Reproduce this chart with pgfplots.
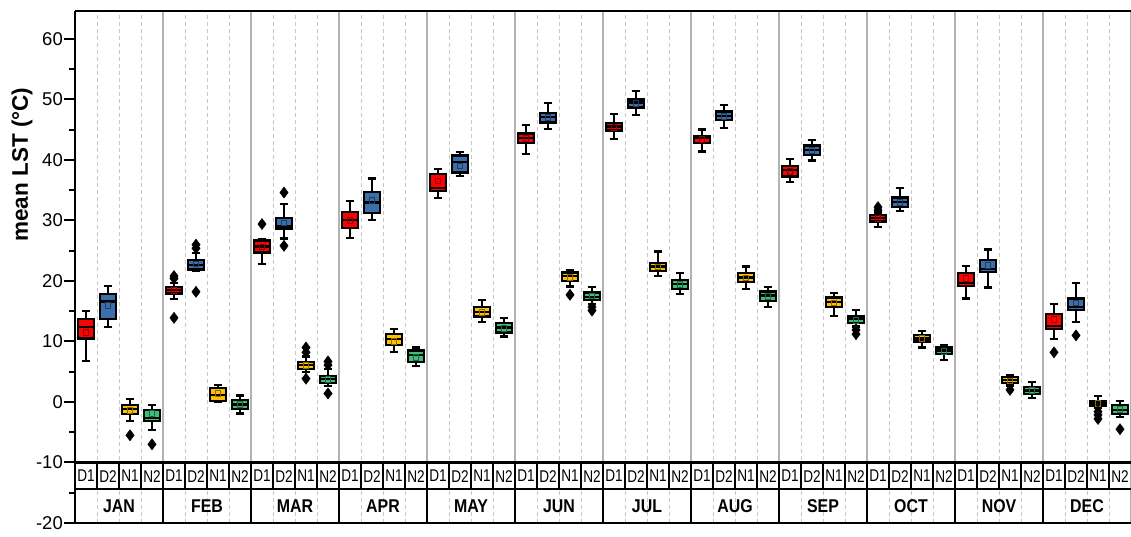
\documentclass[border=0pt]{standalone}
\usepackage{pgfplots}
\pgfplotsset{compat=1.18}
\usepgfplotslibrary{statistics}
\usepackage{fontspec}
\setmainfont{Liberation Sans}
\newfontfamily\narrowfont[FakeStretch=0.8]{Liberation Sans}
\newfontfamily\monthfont[FakeStretch=0.86]{Liberation Sans Bold}
\definecolor{cD1}{RGB}{255,0,0}
\definecolor{cD2}{RGB}{59,110,170}
\definecolor{cN1}{RGB}{255,192,0}
\definecolor{cN2}{RGB}{60,190,120}
% box: pos, color, lw, q1, med, q3, uw, mean
\newcommand{\bx}[8]{%
  \addplot[boxplot/draw direction=y,
      boxplot prepared={draw position=#1, lower whisker=#3, lower quartile=#4,
      median=#5, upper quartile=#6, upper whisker=#7, box extend=0.72, whisker extend=0.4},
      draw=black, fill=#2, line width=2.3pt, solid] coordinates {};
  \addplot[only marks, mark=square, mark size=2.8pt,
      mark options={draw=#2!55!black, line width=0.8pt, fill=none}] coordinates {(#1,#8)};
}
\newcommand{\outl}[1]{%
  \addplot[only marks, mark=diamond*, mark size=5.6pt,
      mark options={draw=black, fill=black, line width=0.4pt}] coordinates {#1};
}
\begin{document}
\begin{tikzpicture}
\begin{axis}[
  scale only axis, width=1056pt, height=512pt,
  xmin=0, xmax=48, ymin=-20, ymax=64.6,
  axis x line*=box, axis y line*=left,
  axis line style={line width=2.6pt, black},
  xtick={0,4,...,48}, minor xtick={1,2,3,5,6,7,9,10,11,13,14,15,17,18,19,21,22,23,25,26,27,29,30,31,33,34,35,37,38,39,41,42,43,45,46,47},
  xticklabels={}, x tick style={draw=none},
  xmajorgrids, xminorgrids,
  major x grid style={draw=black!30, line width=1.1pt, solid},
  minor x grid style={draw=black!22, line width=0.8pt, dashed, dash pattern=on 4pt off 3pt},
  ytick={-20,-10,...,60}, minor ytick={-15,-5,...,65},
  tick align=outside, y tick style={black, line width=2pt},
  major tick length=11pt, minor tick length=6pt,
  yticklabel style={font=\fontsize{18.5}{22}\selectfont, inner sep=1pt, /pgf/number format/assume math mode=true},
  clip=false,
]
% JAN
\bx{0.5}{cD1}{6.8}{10.5}{12.4}{13.7}{15.0}{11.5}
\bx{1.5}{cD2}{12.4}{13.7}{16.6}{17.8}{19.2}{16.0}
\bx{2.5}{cN1}{-3.1}{-2.0}{-1.2}{-0.5}{0.5}{-1.4}
\bx{3.5}{cN2}{-4.6}{-3.1}{-2.7}{-1.3}{-0.55}{-1.9}
\outl{(2.5,-5.5) (3.5,-7.0)}
% FEB
\bx{4.5}{cD1}{17.0}{17.9}{18.5}{19.0}{19.6}{18.4}
\bx{5.5}{cD2}{21.7}{21.9}{22.6}{23.5}{24.6}{22.8}
\bx{6.5}{cN1}{0.0}{0.2}{1.2}{2.3}{2.75}{1.4}
\bx{7.5}{cN2}{-1.9}{-1.2}{-0.4}{0.3}{1.05}{-0.4}
\outl{(4.5,20.4) (4.5,20.8) (4.5,13.9) (5.5,25.4) (5.5,26.0) (5.5,18.2)}
% MAR
\bx{8.5}{cD1}{22.8}{24.7}{25.7}{26.7}{26.9}{25.6}
\bx{9.5}{cD2}{27.0}{28.6}{29.0}{30.4}{32.7}{29.6}
\bx{10.5}{cN1}{5.0}{5.45}{6.1}{6.6}{7.5}{6.0}
\bx{11.5}{cN2}{2.6}{3.1}{3.75}{4.3}{5.4}{3.7}
\outl{(8.5,29.4) (9.5,34.6) (9.5,25.8) (10.5,8.2) (10.5,9.0) (10.5,3.85) (11.5,6.1) (11.5,6.7) (11.5,1.4)}
% APR
\bx{12.5}{cD1}{27.1}{28.8}{30.1}{31.35}{33.2}{30.0}
\bx{13.5}{cD2}{30.1}{31.2}{32.95}{34.7}{36.9}{33.3}
\bx{14.5}{cN1}{8.2}{9.4}{10.4}{11.2}{12.0}{10.0}
\bx{15.5}{cN2}{6.0}{6.55}{7.8}{8.5}{9.0}{7.4}
% MAY
\bx{16.5}{cD1}{33.7}{34.9}{35.4}{37.7}{38.5}{36.5}
\bx{17.5}{cD2}{37.3}{37.9}{39.6}{40.7}{41.3}{39.0}
\bx{18.5}{cN1}{13.2}{14.1}{14.9}{15.65}{16.9}{14.8}
\bx{19.5}{cN2}{10.8}{11.5}{12.3}{13.1}{13.9}{12.2}
% JUN
\bx{20.5}{cD1}{41.0}{42.8}{43.6}{44.35}{45.8}{43.5}
\bx{21.5}{cD2}{45.1}{46.2}{47.1}{47.8}{49.4}{47.0}
\bx{22.5}{cN1}{19.1}{20.0}{20.8}{21.4}{21.8}{20.6}
\bx{23.5}{cN2}{16.2}{16.9}{17.4}{18.1}{19.0}{17.5}
\outl{(22.5,17.7) (23.5,15.7) (23.5,15.1)}
% JUL
\bx{24.5}{cD1}{43.5}{44.85}{45.5}{46.1}{47.55}{45.4}
\bx{25.5}{cD2}{47.4}{48.65}{49.5}{50.0}{51.4}{49.3}
\bx{26.5}{cN1}{20.8}{21.65}{22.4}{23.0}{24.85}{22.3}
\bx{27.5}{cN2}{17.8}{18.7}{19.5}{20.2}{21.3}{19.4}
% AUG
\bx{28.5}{cD1}{41.4}{42.8}{43.6}{44.0}{45.0}{43.4}
\bx{29.5}{cD2}{45.25}{46.6}{47.3}{48.0}{49.1}{47.2}
\bx{30.5}{cN1}{18.7}{19.8}{20.55}{21.3}{22.4}{20.5}
\bx{31.5}{cN2}{15.75}{16.7}{17.6}{18.25}{19.0}{17.4}
% SEP
\bx{32.5}{cD1}{36.3}{37.25}{38.3}{39.0}{40.1}{38.1}
\bx{33.5}{cD2}{39.9}{40.8}{41.65}{42.4}{43.3}{41.6}
\bx{34.5}{cN1}{14.2}{15.65}{16.5}{17.25}{18.0}{16.4}
\bx{35.5}{cN2}{12.45}{13.0}{13.7}{14.1}{15.2}{13.5}
\outl{(35.5,11.9) (35.5,11.2)}
% OCT
\bx{36.5}{cD1}{28.9}{29.8}{30.35}{30.85}{31.3}{30.3}
\bx{37.5}{cD2}{31.5}{32.2}{33.05}{33.8}{35.3}{33.0}
\bx{38.5}{cN1}{9.0}{10.0}{10.5}{11.1}{11.7}{10.5}
\bx{39.5}{cN2}{6.9}{7.9}{8.5}{9.0}{9.4}{8.4}
\outl{(36.5,31.7) (36.5,32.2)}
% NOV
\bx{40.5}{cD1}{17.1}{19.2}{19.7}{21.3}{22.5}{20.4}
\bx{41.5}{cD2}{18.9}{21.5}{22.0}{23.5}{25.2}{22.6}
\bx{42.5}{cN1}{2.7}{3.1}{3.6}{4.1}{4.45}{3.5}
\bx{43.5}{cN2}{0.6}{1.3}{1.9}{2.5}{3.25}{1.9}
\outl{(42.5,2.0)}
% DEC
\bx{44.5}{cD1}{10.4}{12.1}{12.6}{14.55}{16.2}{13.6}
\bx{45.5}{cD2}{13.2}{15.2}{15.75}{17.1}{19.6}{16.4}
\bx{46.5}{cN1}{-1.05}{-0.6}{-0.2}{0.2}{1.0}{-0.2}
\bx{47.5}{cN2}{-2.5}{-2.0}{-1.3}{-0.5}{0.2}{-1.2}
\outl{(44.5,8.2) (45.5,11.0) (46.5,-1.6) (46.5,-2.15) (46.5,-2.8) (47.5,-4.5)}
% label rows
\draw[black, line width=2.4pt] (axis cs:0,-10) -- (axis cs:48,-10);
\draw[black, line width=2.2pt] (axis cs:0,-14.43) -- (axis cs:48,-14.43);
\pgfplotsinvokeforeach{1,...,47}{
  \draw[black, line width=1.8pt] (axis cs:#1,-10) -- (axis cs:#1,-14.43);
}
\pgfplotsinvokeforeach{1,...,11}{
  \draw[black, line width=2.2pt] (axis cs:4*#1,-14.43) -- (axis cs:4*#1,-20);
}
\pgfplotsinvokeforeach{0,...,11}{
  \node[font=\narrowfont\fontsize{17}{20}\selectfont] at (axis cs:{4*#1+0.5},-12.25) {D1};
  \node[font=\narrowfont\fontsize{17}{20}\selectfont] at (axis cs:{4*#1+1.5},-12.25) {D2};
  \node[font=\narrowfont\fontsize{17}{20}\selectfont] at (axis cs:{4*#1+2.5},-12.25) {N1};
  \node[font=\narrowfont\fontsize{17}{20}\selectfont] at (axis cs:{4*#1+3.5},-12.25) {N2};
}
\tikzset{mo/.style={font=\monthfont\fontsize{18.5}{22}\selectfont}}
\node[mo] at (axis cs:2,-17.25) {JAN};
\node[mo] at (axis cs:6,-17.25) {FEB};
\node[mo] at (axis cs:10,-17.25) {MAR};
\node[mo] at (axis cs:14,-17.25) {APR};
\node[mo] at (axis cs:18,-17.25) {MAY};
\node[mo] at (axis cs:22,-17.25) {JUN};
\node[mo] at (axis cs:26,-17.25) {JUL};
\node[mo] at (axis cs:30,-17.25) {AUG};
\node[mo] at (axis cs:34,-17.25) {SEP};
\node[mo] at (axis cs:38,-17.25) {OCT};
\node[mo] at (axis cs:42,-17.25) {NOV};
\node[mo] at (axis cs:46,-17.25) {DEC};
\node[rotate=90, font=\bfseries\fontsize{22.5}{26}\selectfont] at ([xshift=-53pt]axis cs:0,39.2) {mean LST (°C)};
\coordinate (SW) at (rel axis cs:0,0);
\coordinate (NE) at (rel axis cs:1,1);
\end{axis}
\pgfresetboundingbox
\path[use as bounding box] ([xshift=-75pt,yshift=-13pt]SW) rectangle ([yshift=11pt]NE);
\end{tikzpicture}
\end{document}
